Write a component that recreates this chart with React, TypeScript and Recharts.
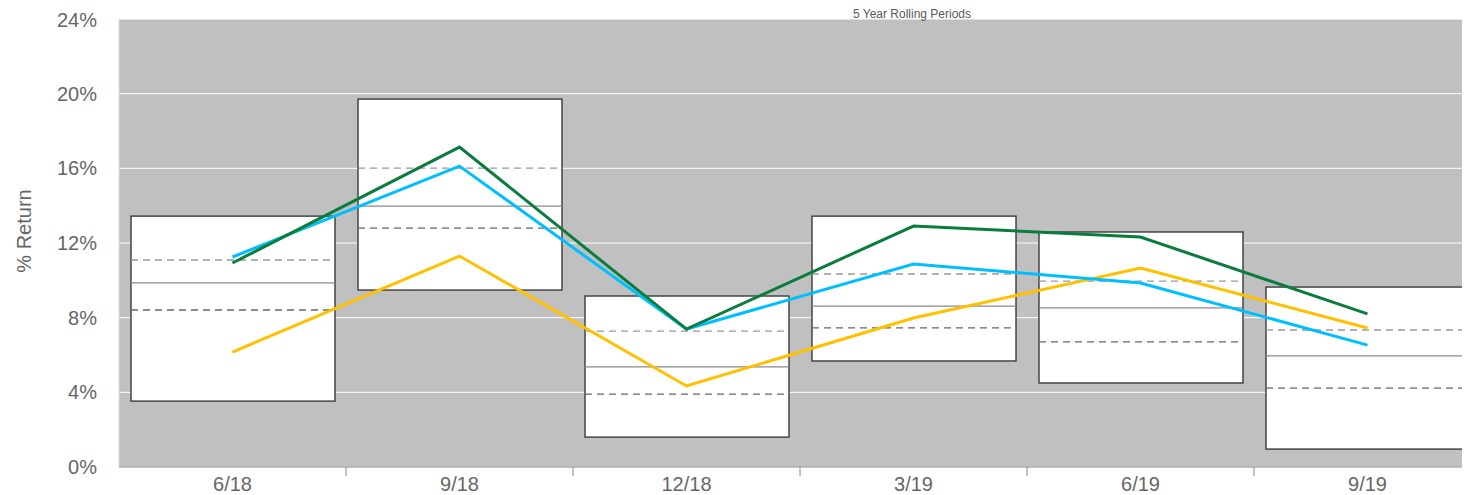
import React from 'react'
import {
  ComposedChart, Bar, Line, XAxis, YAxis, CartesianGrid, Customized
} from 'recharts'

const PERIODS = ['6/18', '9/18', '12/18', '3/19', '6/19', '9/19']
const BOX_HIGH = [13.44, 19.71, 9.16, 13.44, 12.59, 9.64]
const BOX_Q3 = [11.09, 16.01, 7.28, 10.34, 9.96, 7.34]
const BOX_MEDIAN = [9.86, 13.98, 5.36, 8.62, 8.52, 5.95]
const BOX_Q1 = [8.41, 12.8, 3.9, 7.45, 6.7, 4.23]
const BOX_LOW = [3.53, 9.48, 1.6, 5.68, 4.5, 0.96]
const GREEN = [10.93, 17.14, 7.39, 12.91, 12.32, 8.2]
const CYAN = [11.25, 16.12, 7.39, 10.87, 9.86, 6.53]
const YELLOW = [6.16, 11.3, 4.34, 7.98, 10.66, 7.45]
const Y_TICKS = [0, 4, 8, 12, 16, 20, 24]

const data = PERIODS.map((period, i) => ({
  period,
  range: [BOX_LOW[i], BOX_HIGH[i]],
  q1: BOX_Q1[i],
  median: BOX_MEDIAN[i],
  q3: BOX_Q3[i],
  green: GREEN[i],
  cyan: CYAN[i],
  yellow: YELLOW[i],
}))

const FONT = '"Liberation Sans", Arial, sans-serif'

function BoxShape(props: any) {
  const { x, y, width, height, payload } = props
  const [low, high] = payload.range
  const yOf = (v: number) => y + (height * (high - v)) / (high - low)
  return (
    <g>
      <rect x={x} y={y} width={width} height={height} fill="#fff" stroke="#3a3a3a" strokeWidth={1.4} />
      <line x1={x} x2={x + width} y1={yOf(payload.q3)} y2={yOf(payload.q3)} stroke="#999" strokeWidth={1.3} strokeDasharray="7 5" />
      <line x1={x} x2={x + width} y1={yOf(payload.median)} y2={yOf(payload.median)} stroke="#8a8a8a" strokeWidth={1.3} />
      <line x1={x} x2={x + width} y1={yOf(payload.q1)} y2={yOf(payload.q1)} stroke="#666" strokeWidth={1.3} strokeDasharray="7 5" />
    </g>
  )
}

function PeriodTick(props: any) {
  const { x, y, payload, width, visibleTicksCount } = props
  const half = payload.offset > 0 ? payload.offset : width / visibleTicksCount / 2
  const edge = x + half
  return (
    <g>
      <line x1={edge} x2={edge} y1={y - 10} y2={y - 1} stroke="#888" strokeWidth={1} />
      <text x={x} y={y} dy="0.71em" textAnchor="middle" fontSize={20} fontFamily={FONT} fill="#666">
        {payload.value}
      </text>
    </g>
  )
}

function Titles() {
  return (
    <g fontFamily={FONT}>
      <text x={904} y={10} textAnchor="middle" fontSize={12} fill="#595959">5 Year Rolling Periods</text>
      <text x={23} y={223} textAnchor="middle" fontSize={20} fill="#666" transform="rotate(-90, 23, 223)">
        % Return
      </text>
    </g>
  )
}

export default function App() {
  return (
    <ComposedChart
      width={1454}
      height={487}
      data={data}
      margin={{ top: 11, right: -19, bottom: 0, left: 0 }}
    >
      <CartesianGrid vertical={false} stroke="#ffffff" fill="#c0c0c0" fillOpacity={1} />
      <XAxis
        dataKey="period"
        tickLine={false}
        tickSize={0}
        tickMargin={10}
        axisLine={{ stroke: '#888', strokeWidth: 1.2 }}
        height={28}
        tick={<PeriodTick />}
        interval={0}
      />
      <YAxis
        domain={[0, 24]}
        ticks={Y_TICKS}
        tickFormatter={(v: number) => `${v}%`}
        width={111}
        tickLine={false}
        tickSize={0}
        tickMargin={22}
        axisLine={{ stroke: '#d9d9d9' }}
        tick={{ fontSize: 20, fontFamily: FONT, fill: '#666' }}
      />
      <Bar dataKey="range" barSize={204} shape={<BoxShape />} isAnimationActive={false} />
      <Line dataKey="yellow" stroke="#ffc000" strokeWidth={3} dot={false} isAnimationActive={false} />
      <Line dataKey="cyan" stroke="#00bfff" strokeWidth={3} dot={false} isAnimationActive={false} />
      <Line dataKey="green" stroke="#0a7d3e" strokeWidth={3} dot={false} isAnimationActive={false} />
      <Customized component={<Titles />} />
    </ComposedChart>
  )
}
